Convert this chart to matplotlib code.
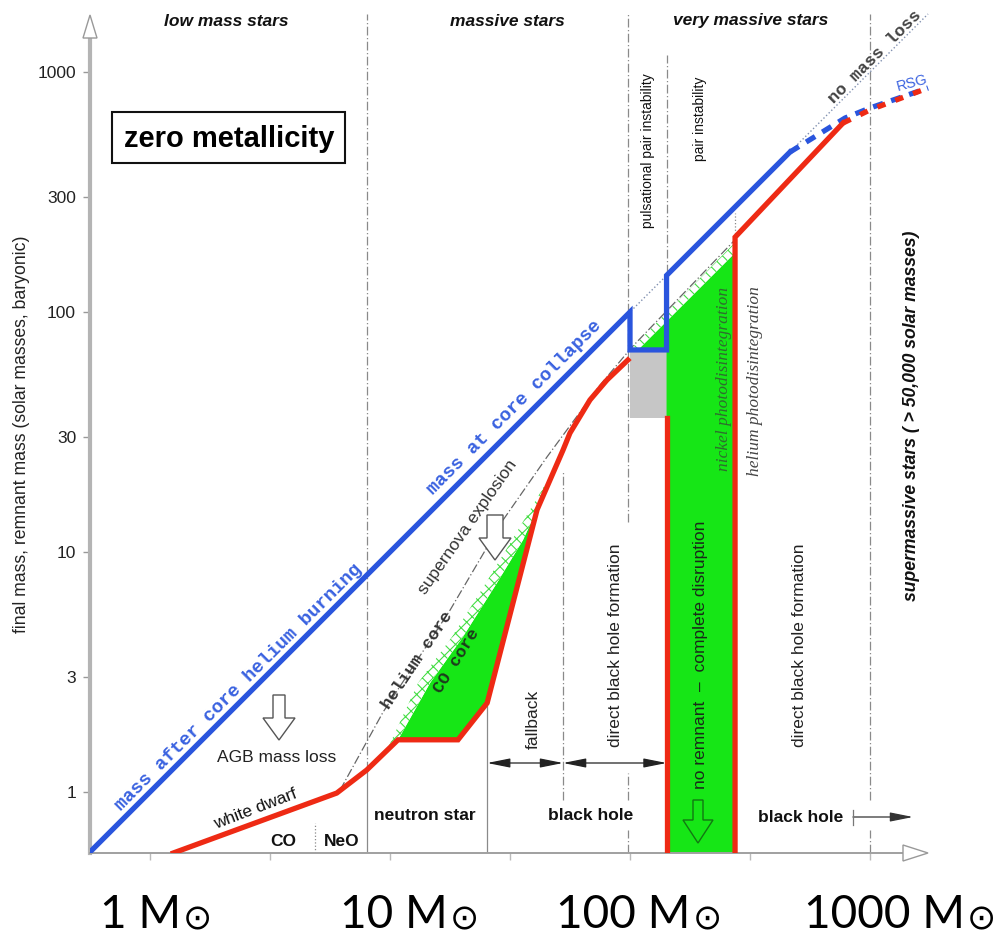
import matplotlib
matplotlib.use("Agg")
import matplotlib.pyplot as plt
from matplotlib.patches import Polygon, Rectangle

W, H = 1007, 936
plt.rcParams['font.family'] = ['Liberation Sans', 'DejaVu Sans']
plt.rcParams['hatch.linewidth'] = 0.8

# ---------------- data: initial mass M -> final / remnant mass m (solar masses)
blue_M = [0.56, 100, 100, 142, 142, 464]
blue_m = [0.56, 100, 69.5, 69.5, 142, 464]
blue_rsg_M = [464, 787, 1000, 1745]
blue_rsg_m = [464, 643, 708, 858]

red_M = [1.25, 6.0, 8.0, 10.8, 19.2, 25.4, 41.0, 52.6, 56.2, 68.1, 80.2, 98.0]
red_m = [0.557, 0.99, 1.235, 1.65, 1.65, 2.35, 15.0, 26.6, 31.3, 43.0, 52.1, 63.1]
red_bh_M = [274, 274, 772]
red_bh_m = [0.557, 205, 613]
red_rsg_M = [772, 1000, 1745]
red_rsg_m = [613, 695, 858]
red_wall_M = [142, 142]
red_wall_m = [0.557, 36.2]

no_loss_M = [0.56, 1745]
no_loss_m = [0.56, 1745]

he_core_M = [6.2, 9.35, 17.8, 29.6, 45.1, 75.0, 102, 274]
he_core_m = [1.02, 2.15, 5.73, 13.6, 24.9, 49.6, 71.5, 200]
co_core_M = [10.8, 14.7, 20.1, 27.9, 35.8, 44.2]
co_core_m = [1.65, 2.85, 4.42, 7.43, 11.2, 17.7]
hatch_top_M = [9.7, 13.1, 18.1, 25.1, 32.2, 42.2, 50.1]
hatch_top_m = [1.49, 2.85, 4.42, 7.43, 11.2, 17.6, 23.8]

pi_core_M = [108, 274]
pi_core_m = [69.5, 176]
pi_hatch_M = [100, 274]
pi_hatch_m = [69.5, 195]
ppi_box_M = [100, 142]
ppi_box_m = [36.2, 69.5]

y_ticks = [1, 3, 10, 30, 100, 300, 1000]
y_labels = ['1', '3', '10', '30', '100', '300', '1000']
x_ticks = [1, 3.16, 10, 31.6, 100, 316, 1000]
mass_labels = ['1', '10', '100', '1000']

BLUE = '#2a55dd'
RED = '#ee2a14'
GREEN = '#16e616'
GRAY = '#8a8a8a'

fig = plt.figure(figsize=(W / 100, H / 100), dpi=100)
ax = fig.add_axes([90 / W, (H - 853) / H, (935 - 90) / W, (853 - 10) / H])
ax.set_xscale('log')
ax.set_yscale('log')
x0, x1 = 10 ** -0.25, 10 ** (785 / 240)
y0, y1 = 10 ** (-61 / 240), 10 ** (782 / 240)
ax.set_xlim(x0, x1)
ax.set_ylim(y0, y1)

# spines / ticks
for s in ['top', 'right']:
    ax.spines[s].set_visible(False)
ax.spines['left'].set_color('#b4b4b4')
ax.spines['left'].set_linewidth(3)
ax.spines['left'].set_bounds(y0, 10 ** ((792 - 38) / 240))
ax.spines['bottom'].set_color('#a0a0a0')
ax.spines['bottom'].set_linewidth(1.4)
ax.spines['bottom'].set_bounds(x0, 10 ** ((903 - 150) / 240))
ax.set_yticks(y_ticks)
ax.set_yticklabels(y_labels)
ax.set_xticks(x_ticks)
ax.set_xticklabels([])
ax.minorticks_off()
ax.tick_params(axis='y', direction='out', length=5, width=1.0, color='#999999',
               labelsize=12.5, labelcolor='#222222', pad=5)
ax.tick_params(axis='x', direction='out', length=5, width=1.0, color='#bbbbbb')

# ---------------- regions
ax.fill([ppi_box_M[0], ppi_box_M[1], ppi_box_M[1], ppi_box_M[0]],
        [ppi_box_m[0], ppi_box_m[0], ppi_box_m[1], ppi_box_m[1]],
        color='#c6c6c6', lw=0, zorder=1)

# massive star CO core (green) between CO core line and remnant
red_seg = [(M, m) for M, m in zip(red_M, red_m) if co_core_M[0] < M < co_core_M[-1]]
poly = list(zip(co_core_M, co_core_m)) + red_seg[::-1]
ax.add_patch(Polygon(poly, closed=True, fc=GREEN, ec='none', zorder=1))
hpoly = list(zip(hatch_top_M, hatch_top_m)) + [(co_core_M[-1], co_core_m[-1])] + \
    list(zip(co_core_M, co_core_m))[-2::-1]
ax.add_patch(Polygon(hpoly, closed=True, fc='white', ec='#44dd44', lw=0,
                     hatch='xxx', zorder=1))

# pair instability region
pgreen = [(pi_core_M[0], pi_core_m[0]), (pi_core_M[1], pi_core_m[1]),
          (pi_core_M[1], y0), (red_wall_M[0], y0), (red_wall_M[0], pi_core_m[0])]
ax.add_patch(Polygon(pgreen, closed=True, fc=GREEN, ec='none', zorder=1))
phatch = [(pi_hatch_M[0], pi_hatch_m[0]), (pi_hatch_M[1], pi_hatch_m[1]),
          (pi_core_M[1], pi_core_m[1]), (pi_core_M[0], pi_core_m[0])]
ax.add_patch(Polygon(phatch, closed=True, fc='white', ec='#44dd44', lw=0,
                     hatch='xxx', zorder=1))

# ---------------- separator lines
dd = (0, (7, 2, 1, 2))
seps = [(8.0, 1.235, 1740, dd), (8.0, y0, 1.235, '-'),
        (98, 13.3, 1740, dd), (98, 0.926, 1.2, dd), (98, y0, 0.695, dd),
        (142, 145, 1180, dd), (52.6, 0.926, 21.9, dd),
        (1000, 0.926, 1740, dd), (1000, y0, 0.695, dd),
        (25.4, y0, 2.35, '-'), (4.87, y0, 0.743, ':'), (274, 205, 258, ':')]
for M, lo, hi, ls in seps:
    ax.plot([M, M], [lo, hi], color=GRAY, lw=0.9, ls=ls, zorder=2)

ax.plot(no_loss_M, no_loss_m, color='#8090b0', lw=1.0, ls=':', zorder=2)
ax.plot(he_core_M, he_core_m, color='#666666', lw=0.9, ls=dd, zorder=2)

# ---------------- main curves
ax.plot(blue_M, blue_m, color=BLUE, lw=3.8, solid_joinstyle='miter', zorder=4)
ax.plot(blue_rsg_M, blue_rsg_m, color=BLUE, lw=3.8, dashes=[2.0, 1.6], zorder=4)
ax.plot(red_M, red_m, color=RED, lw=3.8, solid_joinstyle='miter', zorder=4)
ax.plot(red_bh_M, red_bh_m, color=RED, lw=3.8, solid_joinstyle='miter', zorder=4)
ax.plot(red_wall_M, red_wall_m, color=RED, lw=3.8, zorder=4)
ax.plot(red_rsg_M, red_rsg_m, color=RED, lw=3.8, dashes=[1.6, 2.0], zorder=5)

# ---------------- black arrows
arr_y = 10 ** (29 / 240)
ap = dict(arrowstyle='<|-|>,head_length=1.0,head_width=0.2', color='#222222',
          lw=0.9, shrinkA=0, shrinkB=0, mutation_scale=14)
ax.annotate('', xy=(52.6, arr_y), xytext=(25.4, arr_y), arrowprops=ap, zorder=6)
ax.annotate('', xy=(142, arr_y), xytext=(52.6, arr_y), arrowprops=ap, zorder=6)
bh_y = 10 ** (-25 / 240)
ax.annotate('', xy=(1511, bh_y), xytext=(849, bh_y),
            arrowprops=dict(arrowstyle='-|>,head_length=1.0,head_width=0.2',
                            color='#333333', lw=0.9, shrinkA=0, shrinkB=0,
                            mutation_scale=14), zorder=6)
ax.plot([849, 849], [0.73, 0.84], color='#777777', lw=0.9, zorder=6)


# ---------------- figure-level helpers (pixel positions)
def T(x, y, s, **kw):
    kw.setdefault('ha', 'center')
    kw.setdefault('va', 'center')
    kw.setdefault('rotation_mode', 'anchor')
    return fig.text(x / W, 1 - y / H, s, **kw)


def fpoly(pts, **kw):
    fig.patches.append(Polygon([(px / W, 1 - py / H) for px, py in pts], closed=True,
                               transform=fig.transFigure, **kw))


def open_arrow(x, ya, yb, sw, hw, hl, fc, ec):
    pts = [(x - sw / 2, ya), (x + sw / 2, ya), (x + sw / 2, yb - hl), (x + hw / 2, yb - hl),
           (x, yb), (x - hw / 2, yb - hl), (x - sw / 2, yb - hl)]
    fpoly(pts, fc=fc, ec=ec, lw=1.0, zorder=6)


# axis arrowheads
fpoly([(83, 38), (97, 38), (90, 15)], fc='white', ec='#999999', lw=1.0, zorder=6)
fpoly([(903, 845), (903, 861), (928, 853)], fc='white', ec='#999999', lw=1.0, zorder=6)

open_arrow(279, 695, 740, 12, 32, 22, 'white', '#555555')
open_arrow(495, 515, 560, 16, 32, 22, 'white', '#555555')
open_arrow(698, 800, 843, 10, 30, 23, GREEN, '#127712')

# title box
fig.patches.append(Rectangle((112 / W, 1 - 163 / H), (345 - 112) / W, (163 - 112) / H,
                             transform=fig.transFigure, fc='white', ec='#111111', lw=1.5,
                             zorder=6))
T(229.5, 139, 'zero metallicity', fontsize=21, fontweight='bold', zorder=7)

# top region labels
bi = dict(fontsize=12.5, fontweight='bold', style='italic', color='#111111')
T(226, 21, 'low mass stars', **bi)
T(507, 21, 'massive stars', **bi)
T(751, 21, 'very massive stars', **bi)

T(22, 434, 'final mass, remnant mass (solar masses, baryonic)', rotation=90,
  fontsize=12.7, color='#222222')

mono = dict(family='Liberation Mono', fontweight='bold')
T(239, 687, 'mass after core helium burning', rotation=45, fontsize=13.7,
  color='#3a62e0', **mono)
T(514, 408, 'mass at core collapse', rotation=45, fontsize=13.7, color='#3a62e0', **mono)
T(875, 57, 'no mass loss', rotation=45, fontsize=12.5, color='#444444', **mono)
T(912, 83, 'RSG', rotation=15, fontsize=10.5, color='#3a62e0')
T(417, 660, 'helium core', rotation=56, fontsize=12.5, color='#333333', **mono)
T(456, 661, 'CO core', rotation=58, fontsize=12.5, color='#1d3a1d', **mono)

T(277, 757, 'AGB mass loss', fontsize=12.5, color='#222222')
T(255, 809, 'white dwarf', rotation=21, fontsize=12.5, color='#111111')
b = dict(fontsize=12.5, fontweight='bold', color='#111111')
T(283, 841, 'CO', **b)
T(342, 841, 'NeO', **b)
T(425, 816, 'neutron star', **b)
T(591, 816, 'black hole', **b)
T(801, 817, 'black hole', **b)

T(468, 527, 'supernova explosion', rotation=55, fontsize=12.5, color='#333333')
T(533, 719, 'fallback', rotation=90, fontsize=12.5, color='#222222')
T(615, 645, 'direct black hole formation', rotation=90, fontsize=12.5, color='#222222')
T(799, 645, 'direct black hole formation', rotation=90, fontsize=12.5, color='#222222')
T(700, 655, 'no remnant  \u2013  complete disruption', rotation=90, fontsize=12.5,
  color='#1a2a1a')
T(648, 151, 'pulsational pair instability', rotation=90, fontsize=10, color='#111111')
T(700, 119, 'pair instability', rotation=90, fontsize=10, color='#111111')
T(724, 379, 'nickel photodisintegration', rotation=90, fontsize=12.5, style='italic',
  family='Liberation Serif', color='#2e6e2e')
T(755, 381, 'helium photodisintegration', rotation=90, fontsize=12.5, style='italic',
  family='Liberation Serif', color='#444444')
T(912, 416, 'supermassive stars ( > 50,000 solar masses)', rotation=90, fontsize=12.7,
  fontweight='bold', style='italic', color='#111111')

# bottom mass labels
starts = [100, 340, 556, 804]
fig.canvas.draw()
r = fig.canvas.get_renderer()
for lab, xs in zip(mass_labels, starts):
    t = T(xs, 928, lab + ' M', ha='left', va='baseline', fontsize=33, family='Lato',
          color='black')
    bb = t.get_window_extent(renderer=r)
    fig.text((bb.x1 + 2) / W, 1 - 929 / H, '\u2299', ha='left', va='baseline',
             fontsize=25, family='DejaVu Sans', color='black')

fig.savefig('out.png', dpi=100)
